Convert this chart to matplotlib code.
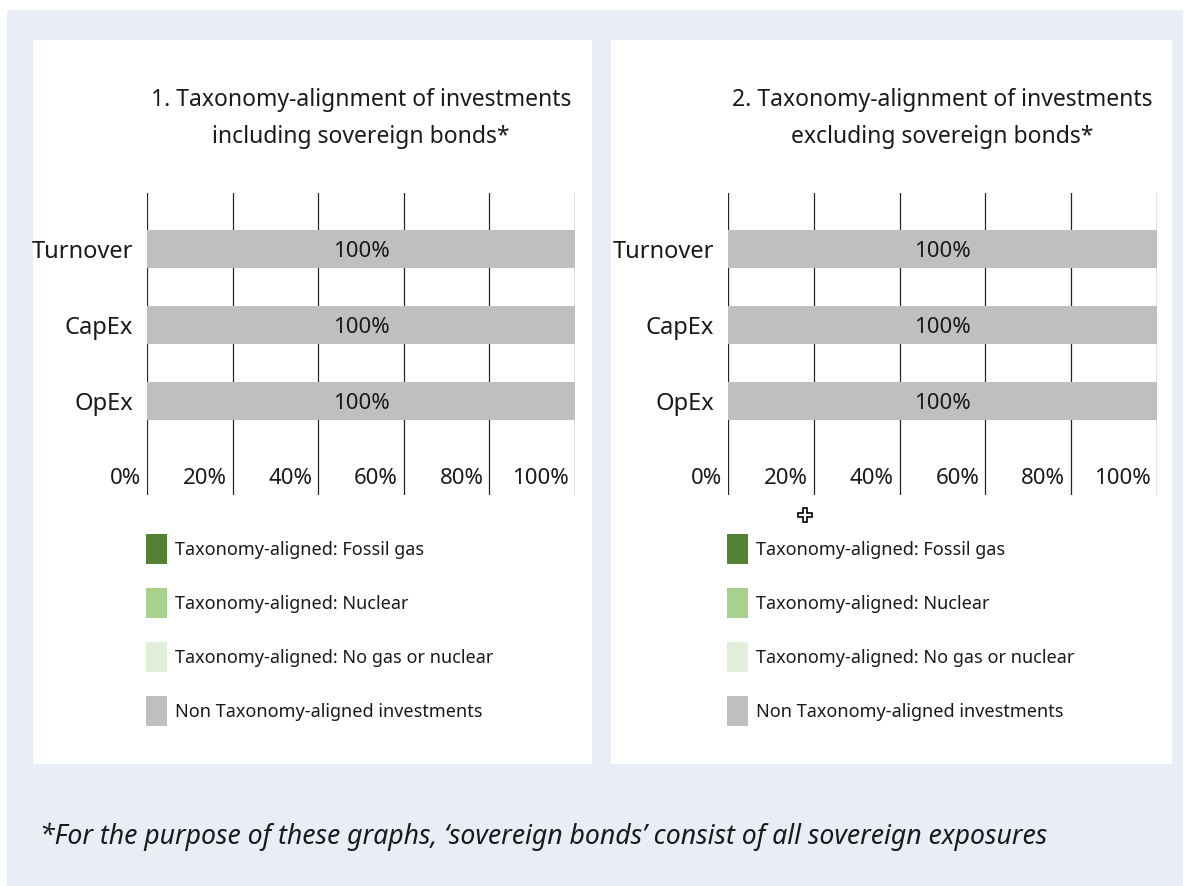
import matplotlib
matplotlib.use("Agg")
import matplotlib.pyplot as plt
from matplotlib.patches import Rectangle, Patch
from matplotlib.lines import Line2D
from matplotlib import transforms

plt.rcParams["font.family"] = ["Noto Sans", "DejaVu Sans"]
plt.rcParams["text.color"] = "#1a1a1a"

# ---- data -------------------------------------------------------------
categories = ["Turnover", "CapEx", "OpEx"]
series_names = [
    "Taxonomy-aligned: Fossil gas",
    "Taxonomy-aligned: Nuclear",
    "Taxonomy-aligned: No gas or nuclear",
    "Non Taxonomy-aligned investments",
]
series_colors = ["#548235", "#A9D18E", "#E2EFDA", "#BFBFBF"]

incl_fossil_gas = [0, 0, 0]
incl_nuclear = [0, 0, 0]
incl_no_gas_nuclear = [0, 0, 0]
incl_non_aligned = [100, 100, 100]

excl_fossil_gas = [0, 0, 0]
excl_nuclear = [0, 0, 0]
excl_no_gas_nuclear = [0, 0, 0]
excl_non_aligned = [100, 100, 100]

x_ticks = [0, 20, 40, 60, 80, 100]
titles = [
    "1. Taxonomy-alignment of investments\nincluding sovereign bonds*",
    "2. Taxonomy-alignment of investments\nexcluding sovereign bonds*",
]
footnote = "*For the purpose of these graphs, \u2018sovereign bonds\u2019 consist of all sovereign exposures"

# ---- figure -----------------------------------------------------------
W, H = 1187, 886
fig = plt.figure(figsize=(W / 100, H / 100), dpi=100)
fig.patch.set_facecolor("white")


def fx(x):
    return x / W


def fy(y):
    return 1 - y / H


def frame(x0, y0, x1, y1, color):
    fig.add_artist(Rectangle((fx(x0), fy(y1)), fx(x1) - fx(x0), fy(y0) - fy(y1),
                             transform=fig.transFigure, facecolor=color,
                             edgecolor="none", zorder=-10))


frame(7, 10, 1183, 886, "#E9EDF5")
frame(33, 40, 592, 764, "white")
frame(611, 40, 1172, 764, "white")

panels = [
    dict(left=147, right=575, title=titles[0], legend_x=146,
         series=[incl_fossil_gas, incl_nuclear, incl_no_gas_nuclear, incl_non_aligned]),
    dict(left=728, right=1157, title=titles[1], legend_x=727,
         series=[excl_fossil_gas, excl_nuclear, excl_no_gas_nuclear, excl_non_aligned]),
]

ax_top, ax_bottom = 193, 495
n = len(categories)
ypos = list(range(n))

for p in panels:
    ax = fig.add_axes([fx(p["left"]), fy(ax_bottom),
                       fx(p["right"]) - fx(p["left"]), (ax_bottom - ax_top) / H])
    ax.set_facecolor("none")
    ax.set_xlim(0, 100)
    ax.set_ylim(n + 0.237, -0.737)

    lefts = [0] * n
    for vals, name, color in zip(p["series"], series_names, series_colors):
        bars = ax.barh(ypos, vals, left=lefts, height=0.5, color=color,
                       edgecolor="none", label=name, zorder=2)
        labels = [f"{v:g}%" if v > 0 else "" for v in vals]
        texts = ax.bar_label(bars, labels=labels, label_type="center",
                             fontsize=16, color="#1a1a1a")
        for t in texts:
            t.set_verticalalignment("center_baseline")
        lefts = [a + b for a, b in zip(lefts, vals)]

    ax.set_xticks(x_ticks)
    ax.set_xticklabels([])
    ax.grid(axis="x", color="#262626", linewidth=0.9)
    ax.set_axisbelow(True)
    ax.set_yticks(ypos)
    ax.set_yticklabels(categories, fontsize=17, color="#1a1a1a")
    ax.tick_params(axis="both", length=0)
    ax.tick_params(axis="y", pad=10)
    for s in ax.spines.values():
        s.set_visible(False)

    # percentage labels sit inside the plot, just left of each gridline
    off = transforms.offset_copy(ax.transData, fig=fig, x=-6, y=-2, units="dots")
    for v in x_ticks:
        ax.text(v, n, f"{v}%", transform=off, ha="right", va="center",
                fontsize=16)

    ax.text(0.5, (ax_bottom - 118.5) / (ax_bottom - ax_top), p["title"],
            transform=ax.transAxes, ha="center", va="center",
            fontsize=16.5, linespacing=1.74)

    handles = [Patch(facecolor=c, edgecolor="none", label=nm)
               for nm, c in zip(series_names, series_colors)]
    fs = 13
    fpx = fs * 100 / 72
    swatch_h = 30
    hh = (swatch_h / fpx - 0.245) / 0.65
    fig.legend(handles=handles, loc="upper left",
               bbox_to_anchor=(fx(p["legend_x"]), fy(534)),
               frameon=False, fontsize=fs,
               handlelength=21 / fpx, handleheight=hh,
               handletextpad=8 / fpx, labelspacing=24 / fpx,
               borderpad=0, borderaxespad=0)

fig.text(fx(40), fy(837), footnote, ha="left", va="center",
         fontsize=19.2, style="italic")

# pointer glyph below the second panel's axis
fig.add_artist(Line2D([fx(805)], [fy(515)], marker="P", markersize=10,
                      markerfacecolor="white", markeredgecolor="black",
                      markeredgewidth=1.2, transform=fig.transFigure))

fig.savefig("out.png", dpi=100)
